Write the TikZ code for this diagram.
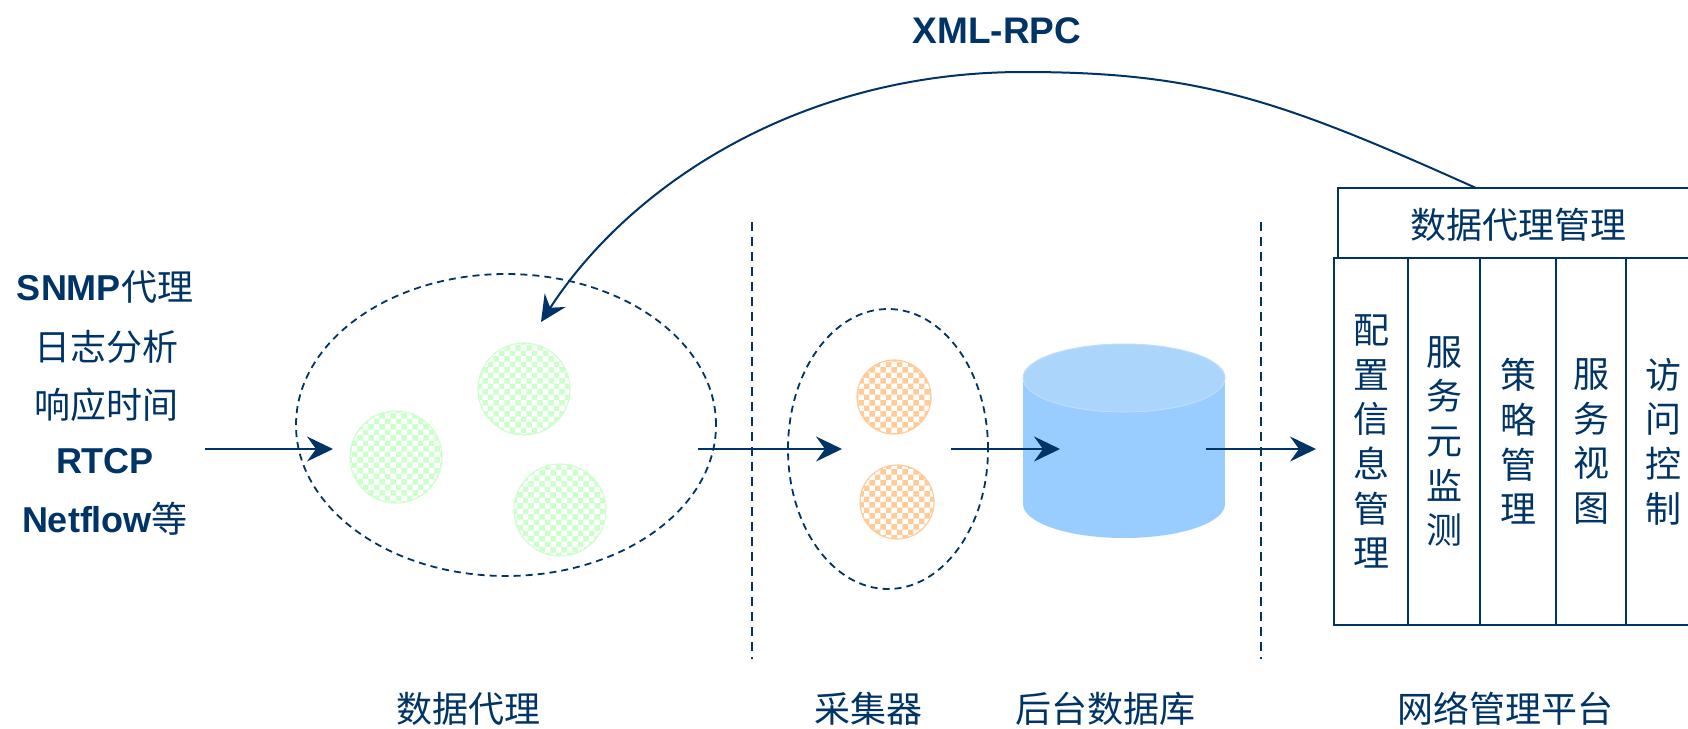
\documentclass[tikz,border=0pt]{standalone}
\usepackage{fontspec}
\setmainfont{Liberation Sans}
\newfontfamily\cjk{Noto Sans CJK SC}
\usetikzlibrary{arrows.meta,shapes.geometric,patterns}
\definecolor{navy}{RGB}{0,51,102}
\definecolor{ballgreen}{RGB}{204,255,204}
\definecolor{ballorange}{RGB}{255,204,153}
\definecolor{dbbody}{RGB}{153,204,255}
\definecolor{dbtop}{RGB}{172,213,252}
\definecolor{dbrim}{RGB}{190,222,253}
\begin{document}
\begin{tikzpicture}[x=1pt,y=-1pt,
  flow/.style={navy, line width=2pt, -{Stealth[length=26pt,width=25pt,inset=9pt]}},
  group/.style={ellipse, draw=navy, line width=1.8pt, dash pattern=on 7pt off 5pt, inner sep=0pt},
  sep/.style={navy, line width=1.5pt, dash pattern=on 9pt off 6pt},
  ball/.style={circle, inner sep=0pt, line width=1.2pt, pattern=checkerboard},
  greenball/.style={ball, minimum size=92pt, draw=ballgreen, pattern color=ballgreen},
  orangeball/.style={ball, minimum size=74pt, draw=ballorange, pattern color=ballorange},
  box/.style={draw=navy, line width=2pt, inner sep=0pt, anchor=north west},
  colbox/.style={box, minimum height=367pt, align=center, text=navy,
    font=\cjk\fontsize{36}{44.7}\selectfont},
  lbl/.style={text=navy, anchor=base, inner sep=0pt, font=\cjk\fontsize{36}{36}\selectfont},
  src/.style={lbl, font=\fontsize{36}{36}\selectfont\bfseries},
]
\clip (0,0) rectangle (1688,728);

% data sources on the left
\node[src] (s1) at (105,300) {SNMP{\cjk\mdseries 代理}};
\node[lbl] (s2) at (106,360) {日志分析};
\node[lbl] (s3) at (106,418) {响应时间};
\node[src] (s4) at (105,473) {RTCP};
\node[src] (s5) at (105,532) {Netflow{\cjk\mdseries 等}};
\coordinate (in0) at (205,449);

% data agent group
\node[group, minimum width=420pt, minimum height=302pt] (agent) at (506,425) {};
\node[greenball] (g1) at (396,457) {};
\node[greenball] (g2) at (524,389) {};
\node[greenball] (g3) at (560,510) {};
\coordinate (in1) at (333,449);

% collector group
\node[group, minimum width=200pt, minimum height=280pt] (coll) at (888,449) {};
\node[orangeball] (o1) at (894,397) {};
\node[orangeball] (o2) at (897,502) {};
\coordinate (a2s) at (698,449);
\coordinate (a2e) at (842,449);
\coordinate (a3s) at (951,449);

% stage separators
\coordinate (d1t) at (752,222);
\coordinate (d1b) at (752,659);
\coordinate (d2t) at (1261,222);
\coordinate (d2b) at (1261,659);
\draw[sep] (d1t) -- (d1b);
\draw[sep] (d2t) -- (d2b);

% back-end database
\fill[dbbody] (1023,378) rectangle (1225,504);
\fill[dbbody] (1124,504) ellipse [x radius=101, y radius=34];
\filldraw[fill=dbtop, draw=dbrim, line width=1pt] (1124,378) ellipse [x radius=101, y radius=34];
\coordinate (db) at (1124,449);
\coordinate (a3e) at (1060,449);
\coordinate (a4s) at (1206,449);
\coordinate (a4e) at (1316,449);

% management platform
\node[box, minimum width=363pt, minimum height=70pt] (mgr) at (1337,187) {};
\node[lbl] (mgrtext) at (1518,238) {数据代理管理};
\node[colbox, minimum width=74pt] (c1) at (1333,257) {配\\置\\信\\息\\管\\理};
\node[colbox, minimum width=72pt] (c2) at (1407,257) {服\\务\\元\\监\\测};
\node[colbox, minimum width=76pt] (c3) at (1479,257) {策\\略\\管\\理};
\node[colbox, minimum width=70pt] (c4) at (1555,257) {服\\务\\视\\图};
\node[colbox, minimum width=75pt] (c5) at (1625,257) {访\\问\\控\\制};

% flow arrows
\draw[flow] (in0) -- (in1);
\draw[flow] (a2s) -- (a2e);
\draw[flow] (a3s) -- (a3e);
\draw[flow] (a4s) -- (a4e);

% XML-RPC call back to the agents
\coordinate (rpcstart) at (1476,188);
\coordinate (rpctop) at (1023,72);
\coordinate (rpcend) at (541,322);
\draw[flow] (rpcstart) .. controls (1280,100) and (1200,72) .. (rpctop)
  .. controls (800,72) and (630,185) .. (rpcend);
\node[src, font=\fontsize{37}{37}\selectfont\bfseries] (rpc) at (997,43) {XML-RPC};

% stage captions
\node[lbl] (t1) at (468,722) {数据代理};
\node[lbl] (t2) at (868,722) {采集器};
\node[lbl] (t3) at (1105,722) {后台数据库};
\node[lbl] (t4) at (1505,722) {网络管理平台};
\end{tikzpicture}
\end{document}
